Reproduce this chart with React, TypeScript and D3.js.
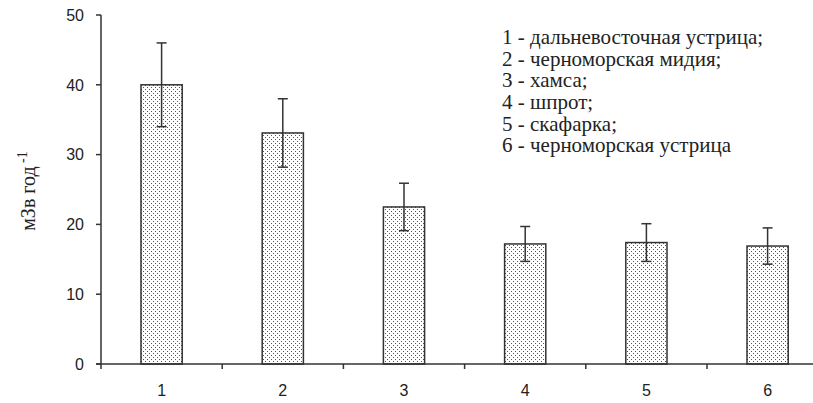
import React from 'react';
import * as d3 from 'd3';

// categories and values
const categories = ['1', '2', '3', '4', '5', '6'];
const values = [40, 33.1, 22.5, 17.2, 17.4, 16.9];
const errors = [6, 4.9, 3.4, 2.5, 2.7, 2.6];
const yTicks = [0, 10, 20, 30, 40, 50];
const legendItems = [
  '1 - дальневосточная устрица;',
  '2 - черноморская мидия;',
  '3 - хамса;',
  '4 - шпрот;',
  '5 - скафарка;',
  '6 - черноморская устрица',
];

const W = 813;
const H = 403;

const App = () => {
  // axis origin and scales
  const x0 = 101;
  const step = 121.2;
  const x = d3
    .scaleBand<string>()
    .domain(categories)
    .range([x0, x0 + step * categories.length])
    .paddingInner(0)
    .paddingOuter(0);
  const y = d3.scaleLinear().domain([0, 50]).range([364, 15]);

  const barW = x.bandwidth() * 0.34;
  const capW = 10;
  const axisColor = '#333';
  const tickFont = "'Liberation Sans'";
  const serif = "'Liberation Serif'";

  return (
    <div style={{ position: 'fixed', left: 0, top: 0 }}>
      <svg width={W} height={H} style={{ display: 'block', background: '#fff' }}>
        <defs>
          <pattern id="dots" width={4} height={4} patternUnits="userSpaceOnUse">
            <rect width={4} height={4} fill="#fff" />
            <rect x={1} y={1} width={1} height={1} fill="#555" />
            <rect x={3} y={3} width={1} height={1} fill="#555" />
          </pattern>
        </defs>

        {/* bars */}
        {categories.map((c, i) => {
          const cx = (x(c) as number) + x.bandwidth() / 2;
          return (
            <rect
              key={'b' + c}
              x={cx - barW / 2}
              y={y(values[i])}
              width={barW}
              height={y(0) - y(values[i])}
              fill="url(#dots)"
              stroke={axisColor}
              strokeWidth={1.5}
            />
          );
        })}

        {/* error bars */}
        {categories.map((c, i) => {
          const cx = (x(c) as number) + x.bandwidth() / 2;
          const top = y(values[i] + errors[i]);
          const bot = y(values[i] - errors[i]);
          return (
            <g key={'e' + c} stroke={axisColor} strokeWidth={1.5}>
              <line x1={cx} x2={cx} y1={top} y2={bot} />
              <line x1={cx - capW / 2} x2={cx + capW / 2} y1={top} y2={top} />
              <line x1={cx - capW / 2} x2={cx + capW / 2} y1={bot} y2={bot} />
            </g>
          );
        })}

        {/* y axis */}
        <line x1={x0} x2={x0} y1={y(50)} y2={y(0)} stroke={axisColor} strokeWidth={1.5} />
        {yTicks.map((t) => (
          <g key={'yt' + t}>
            <line x1={x0 - 5} x2={x0} y1={y(t)} y2={y(t)} stroke={axisColor} strokeWidth={1.5} />
            <text
              x={84}
              y={y(t)}
              dy="0.36em"
              textAnchor="end"
              style={{ fontFamily: tickFont, fontSize: 16 }}
              fill="#222"
            >
              {t}
            </text>
          </g>
        ))}

        {/* x axis */}
        <line x1={x0 - 5} x2={W} y1={y(0)} y2={y(0)} stroke={axisColor} strokeWidth={1.5} />
        {categories.map((c) => (
          <line
            key={'xt' + c}
            x1={x(c)}
            x2={x(c)}
            y1={y(0)}
            y2={y(0) + 5}
            stroke={axisColor}
            strokeWidth={1.5}
          />
        ))}
        {categories.map((c) => (
          <text
            key={'xl' + c}
            x={(x(c) as number) + x.bandwidth() / 2}
            y={390}
            dy="0.36em"
            textAnchor="middle"
            style={{ fontFamily: tickFont, fontSize: 16 }}
            fill="#222"
          >
            {c}
          </text>
        ))}

        {/* y label */}
        <text
          transform="translate(35,191) rotate(-90)"
          textAnchor="middle"
          style={{ fontFamily: serif, fontSize: 20 }}
          fill="#222"
        >
          мЗв год
          <tspan style={{ fontSize: 14 }} dy="-8"> -1</tspan>
        </text>

        {/* legend */}
        {legendItems.map((s, i) => (
          <text
            key={'l' + i}
            x={502}
            y={37 + i * 21.7}
            dy="0.33em"
            style={{ fontFamily: serif, fontSize: 21 }}
            fill="#222"
          >
            {s}
          </text>
        ))}
      </svg>
    </div>
  );
};

export default App;
